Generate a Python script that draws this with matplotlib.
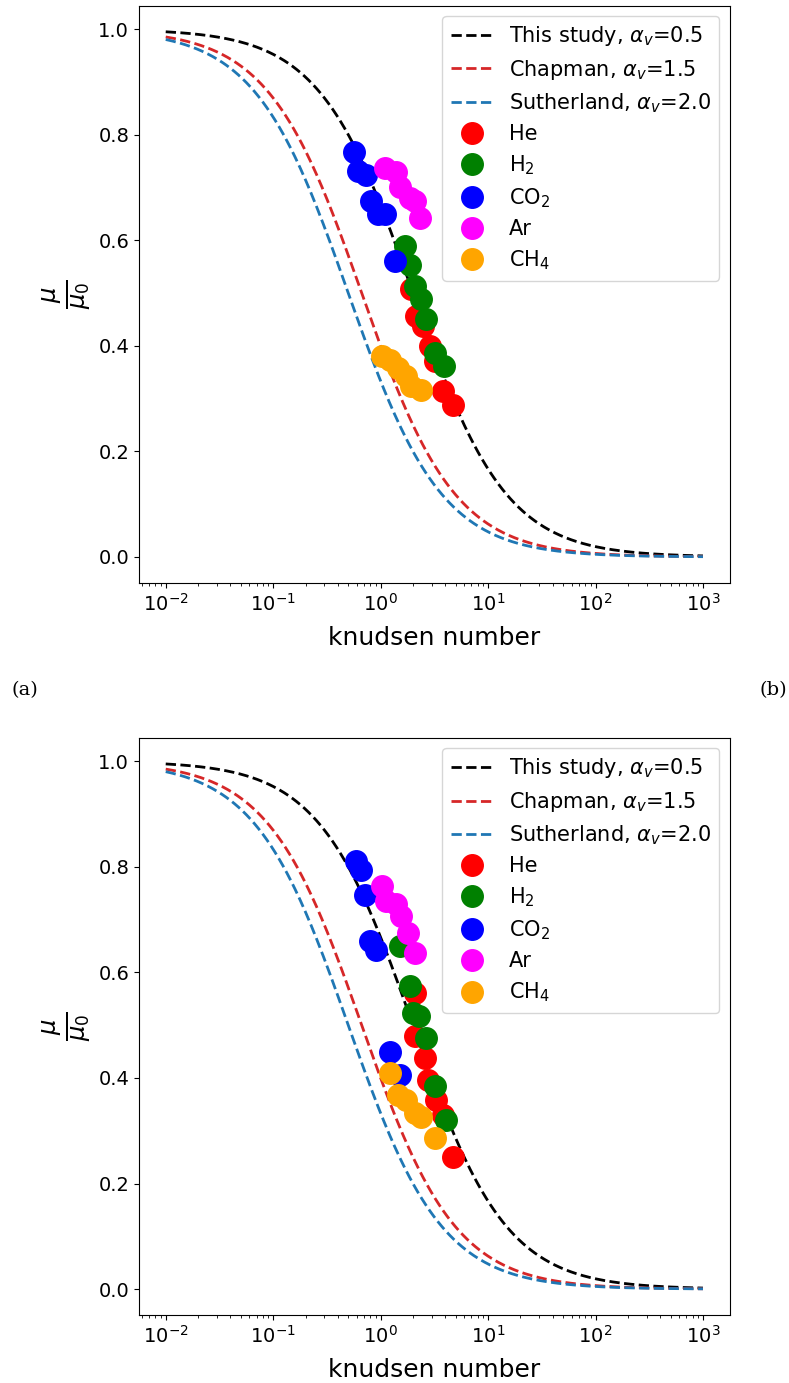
import numpy as np
import matplotlib
matplotlib.use("Agg")
import matplotlib.pyplot as plt

# model curves: mu/mu0 = 1 / (1 + alpha_v * Kn)
model_names = ["This study", "Chapman", "Sutherland"]
model_alpha = [0.5, 1.5, 2.0]
model_colors = ["black", "tab:red", "tab:blue"]

gas_names = ["He", "H$_2$", "CO$_2$", "Ar", "CH$_4$"]
gas_colors = ["red", "green", "blue", "magenta", "orange"]

a_he_kn = [1.93, 2.15, 2.46, 2.86, 3.18, 3.80, 4.71]
a_he_mu = [0.507, 0.456, 0.437, 0.399, 0.371, 0.314, 0.288]
a_h2_kn = [1.67, 1.86, 2.07, 2.39, 2.62, 3.18, 3.86]
a_h2_mu = [0.589, 0.554, 0.513, 0.488, 0.450, 0.387, 0.361]
a_co2_kn = [0.561, 0.611, 0.725, 0.807, 0.938, 1.11, 1.35]
a_co2_mu = [0.768, 0.731, 0.723, 0.674, 0.649, 0.649, 0.560]
a_ar_kn = [1.11, 1.38, 1.50, 1.86, 2.07, 2.31]
a_ar_mu = [0.736, 0.729, 0.700, 0.681, 0.674, 0.643]
a_ch4_kn = [1.02, 1.21, 1.45, 1.73, 1.93, 2.39]
a_ch4_mu = [0.380, 0.374, 0.358, 0.342, 0.323, 0.317]

# panel (b)
b_he_kn = [2.07, 2.10, 2.57, 2.75, 3.30, 3.80, 4.71]
b_he_mu = [0.561, 0.479, 0.438, 0.397, 0.359, 0.330, 0.251]
b_h2_kn = [1.50, 1.86, 1.99, 2.26, 2.66, 3.18, 4.02]
b_h2_mu = [0.650, 0.574, 0.524, 0.518, 0.476, 0.384, 0.321]
b_co2_kn = [0.594, 0.661, 0.710, 0.790, 0.912, 1.21, 1.50]
b_co2_mu = [0.811, 0.795, 0.747, 0.659, 0.643, 0.450, 0.406]
b_ar_kn = [1.02, 1.13, 1.40, 1.56, 1.80, 2.07]
b_ar_mu = [0.763, 0.735, 0.729, 0.706, 0.675, 0.637]
b_ch4_kn = [1.21, 1.45, 1.73, 2.07, 2.39, 3.18]
b_ch4_mu = [0.409, 0.368, 0.359, 0.333, 0.327, 0.286]

panel_a = [(a_he_kn, a_he_mu), (a_h2_kn, a_h2_mu), (a_co2_kn, a_co2_mu),
           (a_ar_kn, a_ar_mu), (a_ch4_kn, a_ch4_mu)]
panel_b = [(b_he_kn, b_he_mu), (b_h2_kn, b_h2_mu), (b_co2_kn, b_co2_mu),
           (b_ar_kn, b_ar_mu), (b_ch4_kn, b_ch4_mu)]


def draw_panel(ax, gases):
    kn = np.logspace(-2, 3, 400)
    for name, alpha, col in zip(model_names, model_alpha, model_colors):
        ax.plot(kn, 1.0 / (1.0 + alpha * kn), linestyle="dashed", color=col,
                linewidth=2, label=name + r", $\alpha_v$=" + str(alpha))
    for (x, y), name, col in zip(gases, gas_names, gas_colors):
        ax.plot(x, y, "o", color=col, markersize=15.5, label=name)
    ax.set_xscale("log")
    ax.set_xlabel("knudsen number", fontsize=18, labelpad=8)
    ax.set_ylabel(r"$\frac{\mu}{\mu_0}$", fontsize=25)
    ax.tick_params(labelsize=14)
    ax.legend(loc="upper right", fontsize=15, handlelength=2.0,
              labelspacing=0.45, borderpad=0.4, handletextpad=0.8)


fig = plt.figure(figsize=(7.89, 13.83), dpi=100)
ax1 = fig.add_axes([0.176, 0.5785, 0.749, 0.4175])
ax2 = fig.add_axes([0.176, 0.0491, 0.749, 0.4175])
draw_panel(ax1, panel_a)
draw_panel(ax2, panel_b)

fig.text(0.032, 0.501, "(a)", fontsize=14, family="DejaVu Serif",
         ha="center", va="center")
fig.text(0.980, 0.501, "(b)", fontsize=14, family="DejaVu Serif",
         ha="center", va="center")

fig.savefig("out.png", dpi=100)
